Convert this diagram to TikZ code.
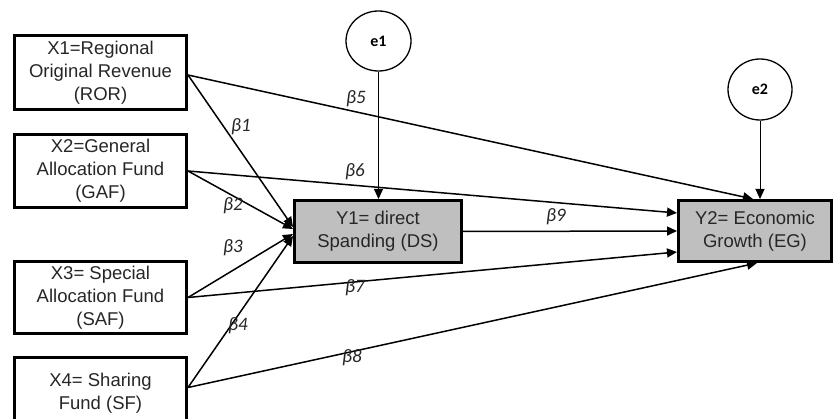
\documentclass[tikz,border=0pt]{standalone}
\usepackage{fontspec}
\setmainfont{Liberation Sans}
\newfontfamily\calib{Carlito}
\usetikzlibrary{arrows.meta,shapes.geometric}
\definecolor{boxgray}{RGB}{191,191,191}
\definecolor{txt}{RGB}{38,38,38}
\tikzset{
  varbox/.style={draw=black, line width=3pt, rectangle, inner sep=0pt, align=center,
    text=txt, font=\fontsize{18.5}{23}\selectfont},
  endobox/.style={varbox, fill=boxgray},
  errnode/.style={draw=black, line width=1.3pt, ellipse, inner sep=0pt,
    font=\calib\bfseries\fontsize{16}{18}\selectfont},
  path/.style={draw=black, line width=1.5pt, -{Triangle[length=10pt,width=9pt]}},
  errpath/.style={draw=black, line width=1pt, -{Triangle[length=10pt,width=9pt]}},
  coef/.style={font=\calib\itshape\fontsize{19}{21}\selectfont, text=txt, inner sep=0pt}
}
\begin{document}
\begin{tikzpicture}[x=1pt,y=-1pt]
\useasboundingbox (0,0) rectangle (834,419);
\clip (0,0) rectangle (834,419);
% exogenous boxes
\node[varbox, minimum width=172pt, minimum height=74pt] (X1) at (100.5,72.5) {X1=Regional\\Original Revenue\\(ROR)};
\node[varbox, minimum width=172pt, minimum height=73pt] (X2) at (100.5,171) {X2=General\\Allocation Fund\\(GAF)};
\node[varbox, minimum width=172pt, minimum height=72pt] (X3) at (100.5,297.5) {X3= Special\\Allocation Fund\\(SAF)};
\node[varbox, minimum width=172pt, minimum height=72pt] (X4) at (100.5,393.5) {X4= Sharing\\Fund (SF)};
% endogenous boxes
\node[endobox, minimum width=167pt, minimum height=62pt] (Y1) at (378,231.5) {Y1= direct\\Spanding (DS)};
\node[endobox, minimum width=153pt, minimum height=61pt] (Y2) at (755,231) {Y2= Economic\\Growth (EG)};
% error terms
\node[errnode, minimum width=65pt, minimum height=60pt] (e1) at (378.5,41) {e1};
\node[errnode, minimum width=64pt, minimum height=61pt] (e2) at (760,89.5) {e2};
% paths to Y1
\draw[path] ([yshift=-2.5pt]X1.east) -- ([yshift=4.5pt]Y1.west);
\draw[path] (X2.east) -- ([yshift=2.5pt]Y1.west);
\draw[path] (X3.east) -- ([yshift=-2.5pt]Y1.west);
\draw[path] ([yshift=6pt]X4.east) -- ([yshift=-4.5pt]Y1.west);
% paths to Y2
\draw[path] ([yshift=-2.5pt]X1.east) -- ([xshift=-2pt]Y2.north);
\draw[path] (X2.east) -- ([yshift=18pt]Y2.west);
\draw[path] (Y1.east) -- (Y2.west);
\draw[path] (X3.east) -- ([yshift=-21pt]Y2.west);
\draw[path] ([yshift=6pt]X4.east) -- ([xshift=2pt]Y2.south);
% error paths
\draw[errpath] (e1.south) -- (e1.south |- Y1.north);
\draw[errpath] (e2.south) -- (e2.south |- Y2.north);
% coefficient labels
\node[coef] (b1) at (241,127) {β1};
\node[coef] (b2) at (233,206) {β2};
\node[coef] (b3) at (233,248) {β3};
\node[coef] (b4) at (238,326) {β4};
\node[coef] (b5) at (356,99) {β5};
\node[coef] (b6) at (355,172) {β6};
\node[coef] (b7) at (355,288) {β7};
\node[coef] (b8) at (352,358) {β8};
\node[coef] (b9) at (556,217) {β9};
\end{tikzpicture}
\end{document}
